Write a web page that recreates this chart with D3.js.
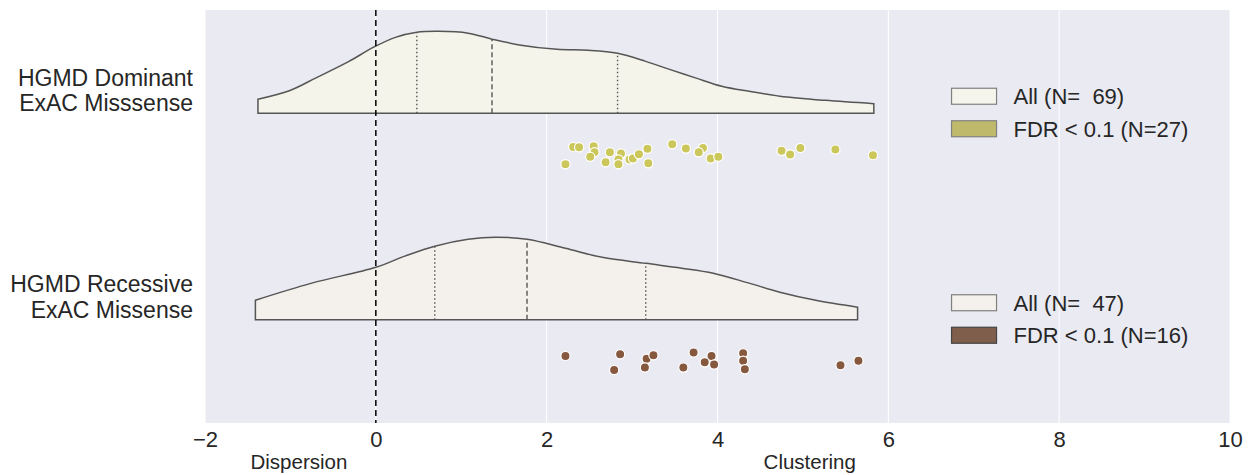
<!DOCTYPE html>
<html>
<head>
<meta charset="utf-8">
<script src="https://cdn.jsdelivr.net/npm/d3@7"></script>
<style>
  body { margin: 0; background: #fff; }
  text { font-family: Arial, "Liberation Sans", sans-serif; fill: #262626; white-space: pre; }
</style>
</head>
<body>
<svg id="chart" width="1253" height="475"></svg>
<script>
// categories and legend labels
const categories = ['HGMD Dominant\nExAC Misssense', 'HGMD Recessive\nExAC Missense'];
const legendAll = ['All (N=  69)', 'All (N=  47)'];
const legendFdr = ['FDR < 0.1 (N=27)', 'FDR < 0.1 (N=16)'];
const xTicks = [-2, 0, 2, 4, 6, 8, 10];

// kernel density (half violin): [x, density]
const densDominant = [
  [-1.38, 0.047], [-1.02, 0.074], [-0.70, 0.118], [-0.32, 0.172], [-0.02, 0.221],
  [0.23, 0.253], [0.48, 0.270], [0.74, 0.273], [1.08, 0.267], [1.36, 0.247],
  [1.70, 0.227], [2.12, 0.213], [2.48, 0.210], [2.83, 0.200], [3.16, 0.173],
  [3.43, 0.147], [3.75, 0.117], [4.05, 0.090], [4.37, 0.073], [4.73, 0.057],
  [5.26, 0.043], [5.83, 0.032]
];
const densRecessive = [
  [-1.41, 0.065], [-0.75, 0.122], [0.00, 0.175], [0.34, 0.212], [0.69, 0.245],
  [1.08, 0.268], [1.40, 0.275], [1.77, 0.268], [2.22, 0.238], [2.65, 0.208],
  [3.16, 0.188], [3.58, 0.172], [3.95, 0.155], [4.37, 0.122], [4.73, 0.092],
  [5.15, 0.065], [5.64, 0.042]
];
// quartiles [q1, median, q3]
const quartDominant = [0.48, 1.36, 2.83];
const quartRecessive = [0.69, 1.77, 3.16];

// FDR < 0.1 points: score and strip jitter
const fdrDominant = [2.31, 2.38, 2.55, 2.56, 2.51, 2.22, 2.74, 2.69, 2.87, 2.84, 2.84, 2.97, 3.01, 3.08,
  3.18, 3.19, 3.47, 3.63, 3.83, 3.78, 3.92, 4.01, 4.75, 4.85, 4.97, 5.38, 5.82];
const jitDominant = [-0.037, -0.035, -0.040, -0.011, 0.011, 0.047, -0.011, 0.037, -0.005, 0.024, 0.047,
  0.024, 0.019, -0.001, -0.028, 0.042, -0.050, -0.029, -0.032, -0.011, 0.019, 0.011, -0.018, 0.000,
  -0.032, -0.024, 0.003];
const fdrRecessive = [2.22, 2.86, 2.79, 3.17, 3.25, 3.15, 3.72, 3.60, 3.93, 3.85, 3.96, 4.30, 4.30, 4.32, 5.44, 5.65];
const jitRecessive = [-0.025, -0.033, 0.043, -0.011, -0.028, 0.031, -0.041, 0.031, -0.025, 0.006, 0.017,
  -0.038, -0.002, 0.040, 0.020, -0.002];

const groups = [
  {dens: densDominant, quart: quartDominant, pts: fdrDominant, jit: jitDominant,
    fill: '#f4f4eb', patch: '#f5f5ec', dot: '#cbc75a', fdrPatch: '#bfba6b', fdrEdge: '#808080'},
  {dens: densRecessive, quart: quartRecessive, pts: fdrRecessive, jit: jitRecessive,
    fill: '#f4f0eb', patch: '#f4f0eb', dot: '#86593f', fdrPatch: '#7f5e4c', fdrEdge: '#444444'}
];

const
  margin = {top: 10, right: 23, bottom: 52, left: 205},
  W = 1253, H = 475,
  width = W - margin.left - margin.right,
  height = H - margin.top - margin.bottom,
  svg = d3.select('#chart'),
  g = svg.append('g').attr('transform', `translate(${margin.left},${margin.top})`)
  ;

const xScale = d3.scaleLinear().domain([-2, 10]).range([0, width]);
const yCat = d3.scaleLinear().domain([-0.5, categories.length - 0.5]).range([0, height]);
const dScale = d3.scaleLinear().domain([0, 0.3]).range([0, 90]);

g.append('rect')
  .attr('width', width)
  .attr('height', height)
  .attr('fill', '#eaeaf2')
;
g.selectAll('line.grid')
  .data(xTicks)
  .join('line')
  .attr('class', 'grid')
  .attr('x1', d => xScale(d)).attr('x2', d => xScale(d))
  .attr('y1', 0).attr('y2', height)
  .attr('stroke', '#fff')
  .attr('stroke-width', 1)
;

const densAt = (dens, x) => {
  const i = d3.bisector(d => d[0]).left(dens, x);
  if (i <= 0) return dens[0][1];
  if (i >= dens.length) return dens[dens.length - 1][1];
  const a = dens[i - 1], b = dens[i], t = (x - a[0]) / (b[0] - a[0]);
  return a[1] + t * (b[1] - a[1]);
};

groups.forEach((grp, i) => {
  const base = yCat(i);
  const area = d3.area()
    .curve(d3.curveCatmullRom.alpha(0.5))
    .x(d => xScale(d[0]))
    .y0(base)
    .y1(d => base - dScale(d[1]));
  g.append('path')
    .datum(grp.dens)
    .attr('d', d => area(d) )
    .attr('fill', grp.fill)
    .attr('stroke', '#555')
    .attr('stroke-width', 1.5)
  ;
  g.selectAll(`line.q${i}`)
    .data(grp.quart)
    .join('line')
    .attr('class', `q${i}`)
    .attr('x1', d => xScale(d)).attr('x2', d => xScale(d))
    .attr('y1', base)
    .attr('y2', d => base - dScale(densAt(grp.dens, d)))
    .attr('stroke', '#555')
    .attr('stroke-width', 1.4)
    .attr('stroke-dasharray', (d, j) => j === 1 ? '5,3' : '1.5,2.5')
  ;
  g.selectAll(`circle.p${i}`)
    .data(grp.pts)
    .join('circle')
    .attr('class', `p${i}`)
    .attr('cx', d => xScale(d))
    .attr('cy', (d, j) => yCat(i + 0.2 + grp.jit[j]))
    .attr('r', 4.6)
    .attr('fill', grp.dot)
    .attr('stroke', '#fff')
    .attr('stroke-width', 1.2)
  ;

  // category label
  const lines = categories[i].split('\n');
  const lab = g.append('text')
    .attr('text-anchor', 'end')
    .attr('font-size', 23)
    .attr('transform', `translate(${-12},${base - 23})`);
  lab.selectAll('tspan')
    .data(lines)
    .join('tspan')
    .attr('x', 0)
    .attr('dy', (d, j) => j === 0 ? '-0.2em' : '1.12em')
    .text(d => d);

  // legend
  const leg = g.append('g').attr('transform', `translate(${xScale(6.74)},${base - 25})`);
  [[legendAll[i], grp.patch, '#808080'], [legendFdr[i], grp.fdrPatch, grp.fdrEdge]].forEach((e, j) => {
    leg.append('rect')
      .attr('x', 0).attr('y', j * 32.5)
      .attr('width', 45).attr('height', 16)
      .attr('fill', e[1])
      .attr('stroke', e[2])
      .attr('stroke-width', 1.2);
    leg.append('text')
      .attr('x', 62).attr('y', j * 32.5 + 8)
      .attr('dy', '0.36em')
      .attr('font-size', 22)
      .text(e[0]);
  });
});

// zero line
g.append('line')
  .attr('x1', xScale(0)).attr('x2', xScale(0))
  .attr('y1', 0).attr('y2', height)
  .attr('stroke', '#000')
  .attr('stroke-width', 1.5)
  .attr('stroke-dasharray', '6,4')
;

const axisX = d3.axisBottom(xScale).tickValues(xTicks).tickSize(0).tickPadding(8);
g.append('g')
  .attr('transform', `translate(0,${height})`)
  .call(axisX)
  .call(s => s.select('.domain').remove())
  .call(s => s.selectAll('text').attr('font-size', 22).attr('font-family', null).attr('fill', '#262626'))
;

g.append('text')
  .attr('x', xScale(-0.9)).attr('y', height + 46)
  .attr('text-anchor', 'middle')
  .attr('font-size', 20.5)
  .text('Dispersion');
g.append('text')
  .attr('x', xScale(5.08)).attr('y', height + 46)
  .attr('text-anchor', 'middle')
  .attr('font-size', 20.5)
  .text('Clustering');
</script>
</body>
</html>
